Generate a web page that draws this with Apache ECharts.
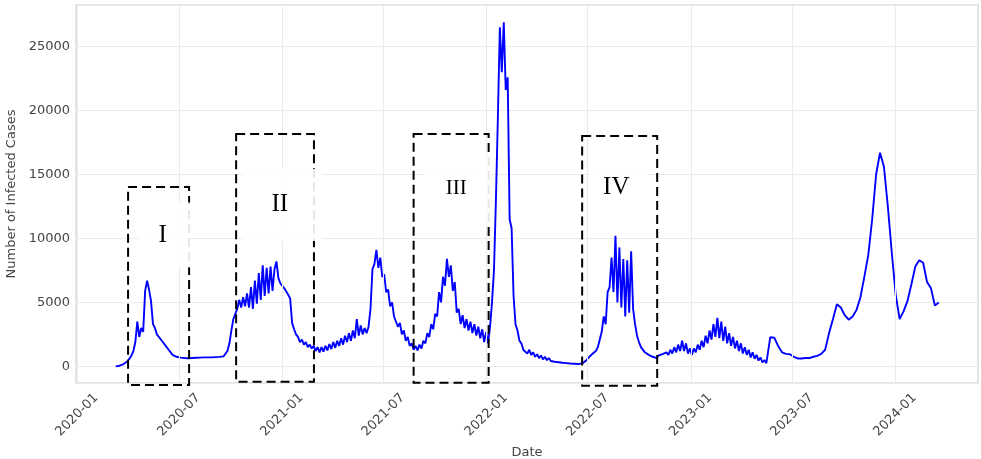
<!DOCTYPE html>
<html>
<head>
<meta charset="utf-8">
<script src="https://cdn.jsdelivr.net/npm/echarts@6/dist/echarts.min.js"></script>
<style>
  html, body { margin: 0; padding: 0; background: #fff; }
  #chart { width: 981px; height: 459px; }
</style>
</head>
<body>
<div id="chart"></div>
<script>
// readings taken twice a week (every 3.5 days), from 2020-03-10 to 2023-05-16
const dailyStart = [2020, 3, 10];
const dailyStepDays = 3.5;
const dailyCases = [
  0, 20, 50, 100, 180, 270, 400, 600, 850, 1200,
  1900, 3500, 2300, 3000, 2700, 5900, 6700, 6000, 5100, 3300,
  3000, 2500, 2600, 2100, 2200, 1700, 1600, 1300, 1100, 900,
  800, 750, 700, 680, 660, 650, 640, 640, 650, 660,
  660, 670, 680, 680, 690, 700, 700, 700, 710, 700,
  710, 720, 730, 740, 760, 780, 900, 1200, 1800, 2800,
  3700, 4100, 4500, 5200, 4600, 5400, 4700, 5700, 4600, 6200,
  4500, 6700, 4900, 7300, 5200, 7900, 5500, 7700, 5700, 7800,
  5900, 7600, 8200, 6900, 6500, 6600, 6100, 6000, 5600, 5300,
  3400, 2900, 2500, 2300, 1900, 2100, 1700, 1900, 1500, 1700,
  1400, 1600, 1200, 1500, 1100, 1500, 1150, 1600, 1250, 1750,
  1350, 1900, 1450, 2000, 1600, 2200, 1700, 2400, 1900, 2600,
  2000, 2800, 2200, 3700, 2400, 3200, 2500, 3000, 2600, 3100,
  4500, 7600, 8000, 9100, 7700, 8500, 7000, 7200, 5800, 6000,
  4700, 5000, 3900, 4000, 3100, 3400, 2500, 2800, 2000, 2300,
  1600, 1800, 1300, 1600, 1250, 1700, 1400, 2000, 1800, 2600,
  2300, 3300, 2900, 4100, 3900, 5800, 5000, 7000, 6300, 8400,
  7000, 7900, 5900, 6600, 4200, 4500, 3300, 4000, 3000, 3700,
  2800, 3500, 2600, 3300, 2400, 3100, 2200, 2900, 1900, 2700,
  1800, 3100, 5000, 7500, 13000, 19500, 26500, 23000, 26900, 21600,
  22600, 11500, 10800, 5500, 3300, 2800, 2000, 1800, 1300, 1400,
  1000, 1300, 900, 1100, 750, 950, 650, 850, 550, 750,
  480, 650, 420, 560, 360, 480, 320, 420, 280, 380,
  250, 340, 220, 300, 200, 270, 180, 250, 230, 350,
  450, 650, 800, 950, 1000, 1200, 1500, 2100, 2700, 3900,
  3300, 5800, 6200, 8500, 5800, 10200, 5000, 9300, 4600, 8400,
  3900, 8300, 4200, 9000, 4500, 3300, 2400, 1900, 1500, 1400,
  1100, 1200, 900, 1000, 750, 900, 650, 850, 700, 950,
  800, 1100, 900, 1300, 1000, 1500, 1100, 1700, 1200, 2000,
  1200, 1800, 1000, 1400, 900, 1400, 1100, 1700, 1300, 2000,
  1500, 2400, 1800, 2800, 2100, 3300, 2300, 3800, 2200, 3500,
  2000, 3100, 1800, 2600, 1600, 2300, 1400, 2000, 1200, 1800,
  1000, 1500, 900, 1300, 700, 1100, 600, 900, 450, 700,
  300, 500, 250
];

// weekly readings from 2023-05-23 on
const weeklyStart = [2023, 5, 23];
const weeklyCases = [
  2280, 2250, 1600, 1100, 980, 950, 750, 620, 620, 650,
  650, 750, 820, 980, 1300, 2600, 3700, 4850, 4600, 4000,
  3650, 3900, 4400, 5400, 7000, 8700, 11500, 15000, 16700, 15600,
  12500, 8900, 5600, 3700, 4300, 5100, 6400, 7800, 8300, 8100,
  6600, 6100, 4750, 5000
];

// half-year ticks on the date axis
const dateTicks = ['2020-01-01', '2020-07-01', '2021-01-01', '2021-07-01', '2022-01-01',
  '2022-07-01', '2023-01-01', '2023-07-01', '2024-01-01'];

// dashed highlight boxes
const boxNames = ['I', 'II', 'III', 'IV'];
const boxStart = ['2020-04-01', '2020-10-11', '2021-08-24', '2022-06-21'];
const boxEnd = ['2020-07-19', '2021-02-27', '2022-01-05', '2022-11-02'];
const boxLow = [-1450, -1210, -1290, -1520];
const boxHigh = [14020, 18160, 18160, 18000];
// label anchor inside each box
const labelDate = ['2020-06-02', '2020-12-28', '2021-11-08', '2022-08-21'];
const labelValue = [10270, 12620, 13870, 14020];

const DAY = 86400000;
function localTime(y, m, d) { return new Date(y, m - 1, d).getTime(); }
function parseDay(s) { const p = s.split('-').map(Number); return localTime(p[0], p[1], p[2]); }

const t0 = localTime(dailyStart[0], dailyStart[1], dailyStart[2]);
const t1 = localTime(weeklyStart[0], weeklyStart[1], weeklyStart[2]);
const seriesData = [];
dailyCases.forEach(function (v, i) { seriesData.push([t0 + i * dailyStepDays * DAY, v]); });
weeklyCases.forEach(function (v, i) { seriesData.push([t1 + i * 7 * DAY, v]); });

const tickFont = 'DejaVu Sans';
const gridColor = '#ebebeb';
const chart = echarts.init(document.getElementById('chart'), null, { renderer: 'canvas' });

const option = {
  animation: false,
  backgroundColor: '#fff',
  grid: {
    left: 76, right: 3, top: 5, bottom: 76,
    show: true, borderColor: '#dadada', borderWidth: 1.5, backgroundColor: '#fff',
    outerBoundsMode: 'none'
  },
  xAxis: {
    type: 'time',
    min: parseDay('2019-12-30'),
    max: parseDay('2024-05-28'),
    splitNumber: 10,
    axisLine: { show: false },
    axisTick: { show: false },
    splitLine: { show: false },
    axisLabel: {
      rotate: 45, align: 'center', verticalAlign: 'middle', margin: 32,
      color: '#444', fontSize: 13, fontFamily: tickFont,
      showMinLabel: false, showMaxLabel: false, hideOverlap: false,
      formatter: function (v) {
        const d = new Date(v);
        const m = d.getMonth() + 1;
        if (d.getDate() !== 1 || (m !== 1 && m !== 7)) return '';
        return d.getFullYear() + '-' + String(m).padStart(2, '0');
      }
    },
    name: 'Date', nameLocation: 'middle', nameGap: 60,
    nameTextStyle: { color: '#444', fontSize: 13, fontFamily: tickFont }
  },
  yAxis: {
    type: 'value',
    min: -1300, max: 28250, splitNumber: 5,
    axisLine: { show: false },
    axisTick: { show: false },
    splitLine: { show: true, lineStyle: { color: gridColor, width: 1 } },
    axisLabel: {
      color: '#444', fontSize: 13, fontFamily: tickFont, margin: 6,
      showMinLabel: false, showMaxLabel: false,
      formatter: function (v) { return String(v); }
    },
    name: 'Number of Infected Cases', nameLocation: 'middle', nameGap: 52,
    nameTextStyle: { color: '#444', fontSize: 13, fontFamily: tickFont }
  },
  series: [
    {
      // carries the vertical grid lines at the half-year ticks
      type: 'line', z: 1, silent: true,
      data: seriesData, showSymbol: false,
      lineStyle: { opacity: 0 },
      markLine: {
        silent: true, symbol: 'none', animation: false,
        label: { show: false },
        lineStyle: { color: gridColor, width: 1, type: 'solid' },
        data: dateTicks.map(function (d) { return { xAxis: parseDay(d) }; })
      }
    },
    {
      type: 'line', z: 2,
      data: seriesData,
      showSymbol: false,
      lineStyle: { color: '#0000ff', width: 1.9 },
      itemStyle: { color: '#0000ff' }
    }
  ]
};
chart.setOption(option);

// annotation boxes placed from data coordinates
const patchSize = [[53, 65], [80, 72], [66, 66], [58, 62]];
const fontSize = [25, 25, 21, 25];
const graphics = [];
boxNames.forEach(function (name, i) {
  const a = chart.convertToPixel({ gridIndex: 0 }, [parseDay(boxStart[i]), boxHigh[i]]);
  const b = chart.convertToPixel({ gridIndex: 0 }, [parseDay(boxEnd[i]), boxLow[i]]);
  const c = chart.convertToPixel({ gridIndex: 0 }, [parseDay(labelDate[i]), labelValue[i]]);
  graphics.push({
    type: 'rect', z: 100,
    shape: { x: a[0], y: a[1], width: b[0] - a[0], height: b[1] - a[1] },
    style: { fill: 'none', stroke: '#000', lineWidth: 2, lineDash: [9, 5] }
  });
  graphics.push({
    type: 'rect', z: 101,
    shape: { x: c[0] - patchSize[i][0] / 2 + 2, y: c[1] - patchSize[i][1] / 2, width: patchSize[i][0], height: patchSize[i][1] },
    style: { fill: 'rgba(255,255,255,0.9)', stroke: 'none' }
  });
  graphics.push({
    type: 'text', z: 102, x: c[0], y: c[1],
    style: {
      text: name, fill: '#000', fontSize: fontSize[i], fontFamily: 'Liberation Serif',
      align: 'center', verticalAlign: 'middle'
    }
  });
});
chart.setOption({ graphic: graphics });
</script>
</body>
</html>
